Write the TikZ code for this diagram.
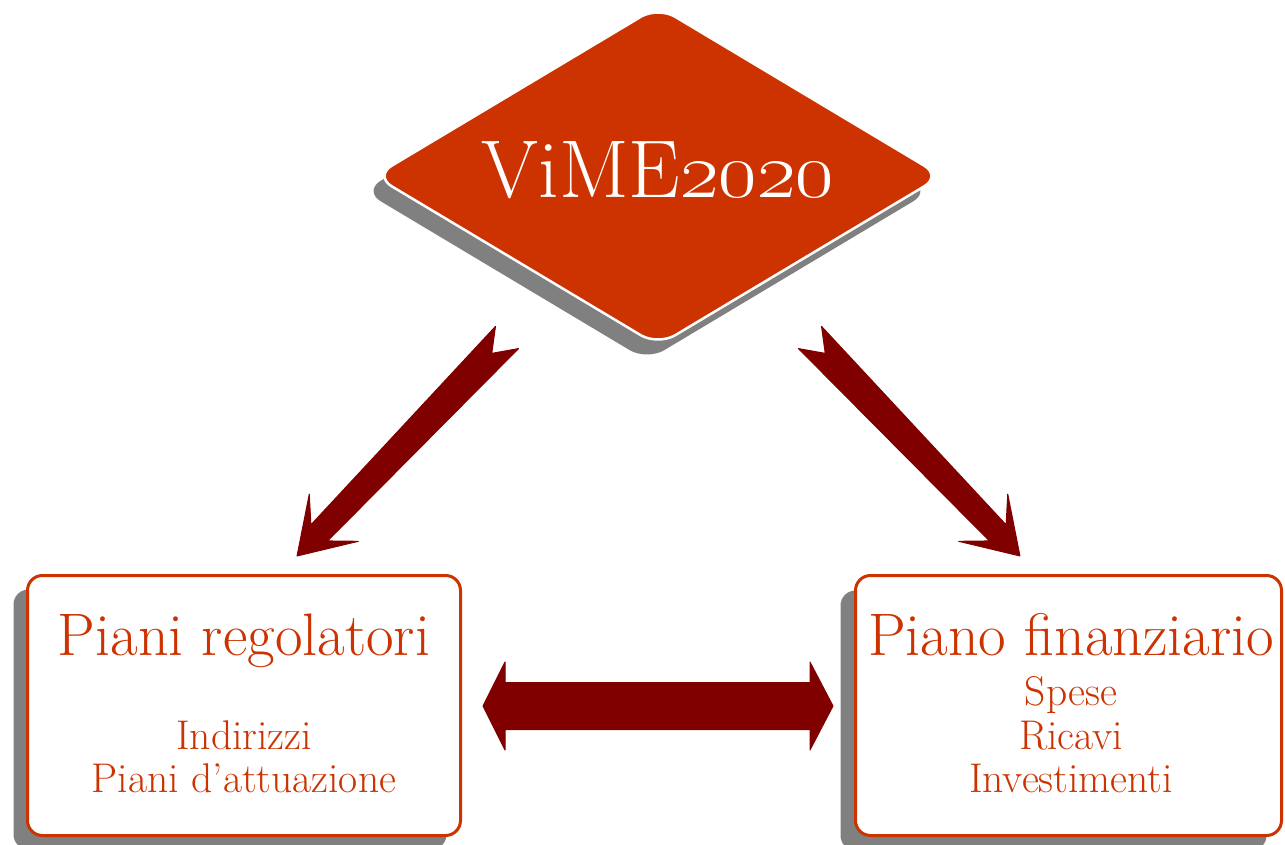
\RequirePackage{fix-cm}
\documentclass[tikz,border=0pt]{standalone}
\usetikzlibrary{shapes.geometric,shadows,calc}
\definecolor{brick}{HTML}{CC3300}
\definecolor{arrowred}{HTML}{800000}
\definecolor{shadowgray}{HTML}{808080}
\begin{document}
\begin{tikzpicture}[x=1pt,y=1pt,
  diam/.style={diamond, draw=white, line width=2.5pt, fill=brick,
    rounded corners=20pt, aspect=1.67, minimum width=568pt, minimum height=340pt,
    inner sep=0pt, text=white, font=\fontsize{82}{86}\selectfont,
    text height=52pt, text depth=8pt,
    drop shadow={shadow xshift=-11pt, shadow yshift=-15pt, fill=shadowgray, opacity=1}},
  box/.style={rectangle, draw=brick, line width=3pt, fill=white,
    rounded corners=15pt, inner sep=0pt, minimum height=260pt},
  title/.style={text=brick, font=\fontsize{60}{66}\selectfont, anchor=base, inner sep=0pt},
  sub/.style={text=brick, font=\fontsize{41.5}{46}\selectfont, anchor=base, inner sep=0pt},
  blockarrow/.style={fill=arrowred, draw=arrowred, line width=1pt, line join=round}]
\useasboundingbox (0,0) rectangle (1285,-845);

% diamond
\node[diam] (vime) at (658,-176) {ViME\oldstylenums{2020}};

% boxes
\node[box, minimum width=433pt,
  drop shadow={shadow xshift=-14pt, shadow yshift=-14pt, fill=shadowgray, opacity=1}]
  (regol) at (244,-705.5) {};
\node[box, minimum width=426pt,
  drop shadow={shadow xshift=-15pt, shadow yshift=-15pt, fill=shadowgray, opacity=1}]
  (fin) at (1068.5,-705.5) {};

% box texts
\node[title] (t1) at (244,-655) {Piani regolatori};
\node[sub] (t1a) at (244,-749) {Indirizzi};
\node[sub] (t1b) at (244,-792) {Piani d’attuazione};
\node[title] (t2) at (1071,-655) {Piano finanziario};
\node[sub] (t2a) at (1071,-705) {Spese};
\node[sub] (t2b) at (1071,-749) {Ricavi};
\node[sub] (t2c) at (1071,-792) {Investimenti};

% diagonal arrows
\coordinate (aL) at (507,-337.5);
\coordinate (aR) at (810,-337.5);
\begin{scope}[shift={(aL)}, rotate=-133.86]
  \path[blockarrow] (0,16) -- (22,0) -- (0,-16) -- (271,-11.6) -- (250,-34)
    -- (303,0) -- (250,34) -- (271,11.6) -- cycle;
\end{scope}
\begin{scope}[shift={(aR)}, rotate=-46.14]
  \path[blockarrow] (0,16) -- (22,0) -- (0,-16) -- (271,-11.6) -- (250,-34)
    -- (303,0) -- (250,34) -- (271,11.6) -- cycle;
\end{scope}

% horizontal double arrow
\coordinate (hL) at (483,-706);
\coordinate (hR) at (833,-706);
\path[blockarrow] (hL) -- ++(22,44) -- ++(0,-20.5) -- ($(hR)+(-23,23.5)$)
  -- ++(0,20.5) -- (hR) -- ++(-23,-44) -- ++(0,20.5) -- ($(hL)+(22,-23.5)$)
  -- ++(0,-20.5) -- cycle;
\end{tikzpicture}
\end{document}
